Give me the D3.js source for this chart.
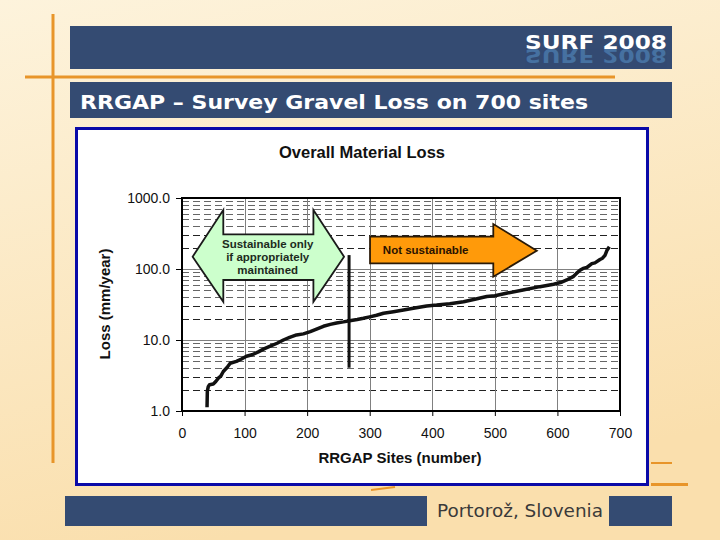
<!DOCTYPE html>
<html>
<head>
<meta charset="utf-8">
<script src="https://cdn.jsdelivr.net/npm/d3@7"></script>
<style>
  html, body { margin: 0; padding: 0; background: #fbe6bb; }
  svg { display: block; }
</style>
</head>
<body>
<svg id="chart" width="720" height="540" xmlns:xlink="http://www.w3.org/1999/xlink"></svg>
<script>
// ---------- data ----------
const slideTitle = "RRGAP – Survey Gravel Loss on 700 sites";
const brand = "SURF 2008";
const footer = "Portorož, Slovenia";
const chartTitle = "Overall Material Loss";
const xLabel = "RRGAP Sites (number)";
const yLabel = "Loss (mm/year)";
const xTicks = [0, 100, 200, 300, 400, 500, 600, 700];
const yTicks = [1, 10, 100, 1000];

const sites = [40, 40.5, 42, 44, 50, 54, 58, 62, 66, 72, 77, 87, 95, 103, 112, 122, 131, 141, 152, 162,
  172, 183, 194, 205, 215, 226, 237, 247, 258, 268, 280, 290, 300, 311, 322, 338, 354, 372, 391, 407,
  428, 450, 468, 487, 500, 520, 545, 572, 594, 605, 615, 625, 630, 636, 641, 647, 655, 660, 668, 672,
  676, 679, 683];
const loss = [1.13, 1.9, 2.2, 2.35, 2.4, 2.6, 2.9, 3.1, 3.6, 4.1, 4.7, 5.0, 5.4, 5.9, 6.2, 6.8, 7.5, 8.2, 9.0, 10.0,
  10.9, 11.8, 12.2, 13.1, 14.2, 15.6, 16.6, 17.4, 18.0, 18.7, 19.4, 20.2, 21.2, 22.3, 23.8, 25.0, 26.4, 28.2, 30.2, 31.0,
  32.5, 34.6, 37.5, 41.0, 42.0, 45.8, 50.5, 56.4, 61.0, 64.5, 70, 78, 86, 96, 102, 105, 119, 122, 136, 142,
  156, 182, 206];

// annotations (data units)
const greenLabel = ["Sustainable only", "if appropriately", "maintained"];
const orangeLabel = "Not sustainable";
const thresholdSite = 267;

// ---------- layout ----------
const svg = d3.select("#chart");
const defs = svg.append("defs");

const bg = defs.append("linearGradient").attr("id", "bg").attr("x1", 0).attr("y1", 0).attr("x2", 0.3).attr("y2", 1);
bg.append("stop").attr("offset", "0%").attr("stop-color", "#fdf3dc");
bg.append("stop").attr("offset", "100%").attr("stop-color", "#fadfad");
svg.append("rect").attr("width", 720).attr("height", 540).attr("fill", "url(#bg)");

const barColor = "#344b72";
const orange = "#e8952a";

// header bars
svg.append("rect").attr("x", 70).attr("y", 26).attr("width", 602).attr("height", 43).attr("fill", barColor);
svg.append("rect").attr("x", 70).attr("y", 82).attr("width", 602).attr("height", 36).attr("fill", barColor);

// brand text + reflection (reflection reuses the same glyphs, mirrored)
defs.append("clipPath").attr("id", "hdrclip").append("rect").attr("x", 70).attr("y", 48.5).attr("width", 602).attr("height", 20.5);
const brandText = defs.append("text").attr("id", "brandGlyphs").attr("x", 525).attr("y", 48.5)
  .attr("font-family", "DejaVu Sans, Verdana, sans-serif").attr("font-weight", "bold").attr("font-size", 20)
  .attr("textLength", 142).attr("lengthAdjust", "spacingAndGlyphs")
  .text(brand);
svg.append("g").attr("clip-path", "url(#hdrclip)")
  .append("use").attr("href", "#brandGlyphs")
  .attr("transform", "translate(0,97) scale(1,-1)")
  .attr("fill", "#4a78aa").attr("opacity", 0.85);
svg.append("use").attr("href", "#brandGlyphs").attr("fill", "#ffffff");

// slide title
svg.append("text").attr("x", 80).attr("y", 109)
  .attr("font-family", "DejaVu Sans, Verdana, sans-serif").attr("font-weight", "bold").attr("font-size", 19)
  .attr("textLength", 508).attr("lengthAdjust", "spacingAndGlyphs")
  .attr("fill", "#ffffff").text(slideTitle);

// orange decorative lines
svg.append("line").attr("x1", 53).attr("y1", 14).attr("x2", 53).attr("y2", 463).attr("stroke", orange).attr("stroke-width", 3);
svg.append("line").attr("x1", 25).attr("y1", 77).attr("x2", 615).attr("y2", 77).attr("stroke", orange).attr("stroke-width", 3);
svg.append("line").attr("x1", 651).attr("y1", 463).attr("x2", 672).attr("y2", 463).attr("stroke", orange).attr("stroke-width", 2);
svg.append("line").attr("x1", 651).attr("y1", 484.5).attr("x2", 688).attr("y2", 484.5).attr("stroke", orange).attr("stroke-width", 3);
svg.append("line").attr("x1", 371).attr("y1", 490).attr("x2", 395).attr("y2", 487).attr("stroke", orange).attr("stroke-width", 2);

// footer
svg.append("rect").attr("x", 65).attr("y", 496).attr("width", 362).attr("height", 30).attr("fill", barColor);
svg.append("rect").attr("x", 609).attr("y", 496).attr("width", 63).attr("height", 30).attr("fill", barColor);
svg.append("text").attr("x", 437).attr("y", 517)
  .attr("font-family", "DejaVu Sans, Verdana, sans-serif").attr("font-size", 17)
  .attr("textLength", 166).attr("lengthAdjust", "spacingAndGlyphs")
  .attr("fill", "#3a3a3a").text(footer);

// chart box
svg.append("rect").attr("x", 76.5).attr("y", 128.5).attr("width", 571).attr("height", 356)
  .attr("fill", "#ffffff").attr("stroke", "#0a0aa8").attr("stroke-width", 3);

// ---------- chart ----------
const x = d3.scaleLinear().domain([0, 700]).range([182, 620]);
const y = d3.scaleLog().domain([1, 1000]).range([411, 198]);
const font = "Liberation Sans, Arial, sans-serif";

svg.append("text").attr("x", 362).attr("y", 157.5).attr("text-anchor", "middle")
  .attr("font-family", font).attr("font-weight", "bold").attr("font-size", 16.5).attr("fill", "#111")
  .text(chartTitle);

const grid = svg.append("g");
// minor horizontal (dashed)
const minor = y.ticks().filter(v => Math.abs(Math.log10(v) - Math.round(Math.log10(v))) > 1e-6);
grid.selectAll("line.minor").data(minor).join("line")
  .attr("x1", x(0)).attr("x2", x(700))
  .attr("y1", d => Math.round(y(d)) + 0.5).attr("y2", d => Math.round(y(d)) + 0.5)
  .attr("stroke", d => (String(d)[0] === "2" || String(d)[0] === "3") ? "#222" : "#666")
  .attr("stroke-width", 1).attr("stroke-dasharray", "7,4");
// major horizontal
grid.selectAll("line.major").data(yTicks).join("line")
  .attr("x1", x(0)).attr("x2", x(700))
  .attr("y1", d => Math.round(y(d)) + 0.5).attr("y2", d => Math.round(y(d)) + 0.5)
  .attr("stroke", "#808080").attr("stroke-width", 1);
// vertical
grid.selectAll("line.v").data(xTicks.slice(1, -1)).join("line")
  .attr("x1", d => Math.round(x(d)) + 0.5).attr("x2", d => Math.round(x(d)) + 0.5)
  .attr("y1", y(1000)).attr("y2", y(1))
  .attr("stroke", "#808080").attr("stroke-width", 1);

// axes
const yAxis = svg.append("g").attr("transform", `translate(${x(0)},0)`)
  .call(d3.axisLeft(y).tickValues(yTicks).tickFormat(d3.format(".1f")).tickSize(6).tickSizeOuter(0).tickPadding(6));
const xAxis = svg.append("g").attr("transform", `translate(0,${y(1)})`)
  .call(d3.axisBottom(x).tickValues(xTicks).tickSize(5).tickSizeOuter(0).tickPadding(12));
[yAxis, xAxis].forEach(g => {
  g.select(".domain").remove();
  g.selectAll("line").attr("stroke", "#000").attr("stroke-width", 1);
  g.selectAll("text").attr("font-family", font).attr("font-size", 14).attr("fill", "#111");
});

// plot border
svg.append("rect").attr("x", x(0)).attr("y", y(1000)).attr("width", x(700) - x(0)).attr("height", y(1) - y(1000))
  .attr("fill", "none").attr("stroke", "#000").attr("stroke-width", 2);

// axis titles
svg.append("text").attr("x", 400).attr("y", 463).attr("text-anchor", "middle")
  .attr("font-family", font).attr("font-weight", "bold").attr("font-size", 15).attr("fill", "#111").text(xLabel);
svg.append("text").attr("transform", "translate(110,304) rotate(-90)").attr("text-anchor", "middle")
  .attr("font-family", font).attr("font-weight", "bold").attr("font-size", 15).attr("fill", "#111").text(yLabel);

// green double arrow
const gx = [17, 66, 210, 259];     // tip, head base, head base, tip
const gy = [678, 308, 149, 70, 34.6]; // head top, shaft top, mid, shaft bottom, head bottom
const greenPts = [
  [gx[0], gy[2]], [gx[1], gy[0]], [gx[1], gy[1]], [gx[2], gy[1]], [gx[2], gy[0]], [gx[3], gy[2]],
  [gx[2], gy[4]], [gx[2], gy[3]], [gx[1], gy[3]], [gx[1], gy[4]]
];
svg.append("polygon")
  .attr("points", greenPts.map(p => [x(p[0]), y(p[1])].join(",")).join(" "))
  .attr("fill", "#ccffcc").attr("stroke", "#1a1a1a").attr("stroke-width", 1.8).attr("stroke-linejoin", "miter");
svg.append("g").selectAll("text").data(greenLabel).join("text")
  .attr("x", x(137)).attr("y", (d, i) => 248 + i * 13).attr("text-anchor", "middle")
  .attr("font-family", font).attr("font-weight", "bold").attr("font-size", 11.5).attr("fill", "#1d2b1d")
  .text(d => d);

// orange arrow
const ox = [300.5, 497.5, 567];
const oy = [430, 285, 181, 120, 78];
const orangePts = [
  [ox[0], oy[1]], [ox[1], oy[1]], [ox[1], oy[0]], [ox[2], oy[2]], [ox[1], oy[4]], [ox[1], oy[3]], [ox[0], oy[3]]
];
svg.append("polygon")
  .attr("points", orangePts.map(p => [x(p[0]), y(p[1])].join(",")).join(" "))
  .attr("fill", "#ff9a0a").attr("stroke", "#2a1a08").attr("stroke-width", 1.8);
svg.append("text").attr("x", x(321)).attr("y", 254)
  .attr("font-family", font).attr("font-weight", "bold").attr("font-size", 11.5).attr("fill", "#2a1200")
  .text(orangeLabel);

// threshold line
svg.append("line").attr("x1", x(thresholdSite)).attr("x2", x(thresholdSite))
  .attr("y1", y(157)).attr("y2", y(4.07)).attr("stroke", "#111").attr("stroke-width", 3);

// data line
const data = sites.map((s, i) => [s, loss[i]]);
svg.append("path").datum(data)
  .attr("d", d3.line().x(d => x(d[0])).y(d => y(d[1])))
  .attr("fill", "none").attr("stroke", "#111").attr("stroke-width", 3.5)
  .attr("stroke-linejoin", "round").attr("stroke-linecap", "butt");
</script>
</body>
</html>
